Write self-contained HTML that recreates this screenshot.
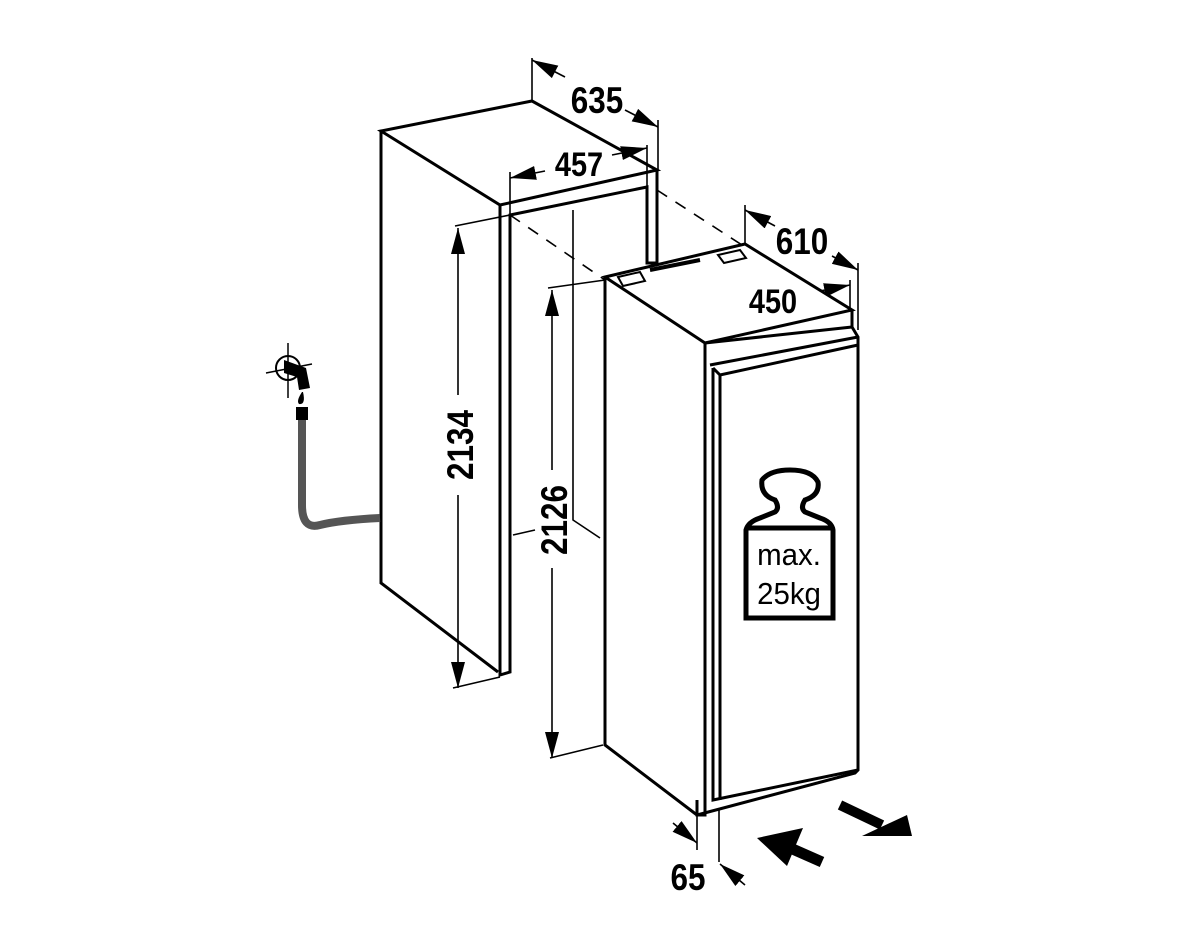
<!DOCTYPE html>
<html><head><meta charset="utf-8"><style>
html,body{margin:0;padding:0;background:#fff;}
svg{display:block}
text.d{font-family:"Liberation Sans",sans-serif;font-weight:bold;fill:#000;}
</style></head><body>
<svg width="1200" height="932" viewBox="0 0 1200 932" xmlns="http://www.w3.org/2000/svg">
<defs>
<marker id="b" viewBox="0 0 10 10" refX="10" refY="5" markerWidth="26" markerHeight="14" orient="auto-start-reverse" markerUnits="userSpaceOnUse" preserveAspectRatio="none"><path d="M0,0 L10,5 L0,10 z"/></marker>
</defs>
<g fill="none" stroke="#000" stroke-width="3" stroke-linejoin="miter">
<path d="M381,131 L532,101 L657,170 L500,205 Z"/>
<path d="M381,131 L381,583 L498,672"/>
<path d="M500,205 L500,675 L510,672 L510,215 L647,187 L647,263 L657,263 L657,170"/>
</g>
<g fill="none" stroke="#000" stroke-width="1.6">
<path d="M573,210 L573,520 L600,538"/>
<path d="M513,535 L535,530"/>
<path d="M510,215 L605,280" stroke-dasharray="12,10"/>
<path d="M657,190 L742,245" stroke-dasharray="12,10"/>
<path d="M455,226 L510,215"/><path d="M453,688 L500,677"/>
<path d="M458,228 L458,395" marker-start="url(#b)"/><path d="M458,495 L458,688" marker-end="url(#b)"/>
<path d="M548,288 L605,280"/><path d="M550,758 L603,745"/>
<path d="M552,290 L552,470" marker-start="url(#b)"/><path d="M552,568 L552,758" marker-end="url(#b)"/>
<path d="M532,58 L532,101"/><path d="M658,120 L658,170"/>
<path d="M532,60 L565,77" marker-start="url(#b)"/><path d="M625,110 L658,127" marker-end="url(#b)"/>
<path d="M510,172 L510,215"/><path d="M647,145 L647,186"/>
<path d="M510,178 L545,171" marker-start="url(#b)"/><path d="M612,155 L647,148" marker-end="url(#b)"/>
<path d="M745,205 L745,244"/><path d="M858,263 L858,330"/>
<path d="M745,210 L775,226" marker-start="url(#b)"/><path d="M832,256 L858,270" marker-end="url(#b)"/>
<path d="M705,308 L705,343"/><path d="M850,280 L850,310"/>
<path d="M705,315 L740,308" marker-start="url(#b)"/><path d="M815,292 L850,285" marker-end="url(#b)"/>
<path d="M697,815 L697,850"/><path d="M719,810 L719,862"/>
<path d="M673,823 L697,843" marker-end="url(#b)"/>
<path d="M745,885 L720,864" marker-end="url(#b)"/>
</g>
<g fill="none" stroke="#000" stroke-width="3">
<path d="M605,277 L745,244 L852,310 L705,343 Z" fill="#fff"/>
<path d="M605,277 L605,745 L697,815"/>
<path d="M705,343 L705,815 L697,815 L697,800"/>
<path d="M852,310 L852,327 L858,337 L858,770 L855,773 L697,815"/>
<path d="M705,343 L852,327"/>
<path d="M710,365 L858,337"/>
<path d="M713,368 L713,800 L858,770"/>
<path d="M720,375 L720,800"/>
<path d="M713,368 L720,375 L858,345"/>
<path d="M618,277 L640,272 L645,281 L623,286 Z" stroke-width="2"/>
<path d="M718,255 L740,250 L746,258 L724,263 Z" stroke-width="2"/>
<path d="M650,270 L700,260" stroke-width="4"/>
</g>
<g stroke="#000" stroke-width="5" fill="none">
<path d="M746,618 L746,530 Q748,522 760,518 L775,512 Q780,508 775,500 Q760,495 762,480 Q770,470 790,470 Q812,470 818,482 Q820,495 805,500 Q800,508 805,512 L820,518 Q832,522 833,530 L833,618 Z"/>
<path d="M746,528 L833,528"/>
</g>
<text x="789" y="565" font-size="31" text-anchor="middle" font-family="Liberation Sans, sans-serif" transform="translate(789,0) scale(0.95,1) translate(-789,0)">max.</text>
<text x="789" y="604" font-size="31" text-anchor="middle" font-family="Liberation Sans, sans-serif" transform="translate(789,0) scale(0.95,1) translate(-789,0)">25kg</text>
<line x1="822" y1="862" x2="788" y2="847" stroke="#000" stroke-width="11"/>
<path d="M757,838 L803,828 L787,866 Z" fill="#000"/>
<line x1="840" y1="805" x2="882" y2="825" stroke="#000" stroke-width="10"/>
<path d="M912,836 L907,815 L862,836 Z" fill="#000"/>
<path d="M380,518 Q340,520 320,525 Q302,530 302,505 L302,420" fill="none" stroke="#555" stroke-width="8"/>
<rect x="296" y="407" width="12" height="13" fill="#000"/>
<path d="M302,392 Q296,401 299,404 Q306,405 303,392 Z" fill="#000"/>
<circle cx="288" cy="368" r="12" fill="none" stroke="#000" stroke-width="2"/>
<path d="M288,343 L288,398 M266,373 L312,364" stroke="#000" stroke-width="1.5"/>
<path d="M284,360 L306,368 L310,388 L299,390 L297,377 L284,373 Z" fill="#000"/>
<g transform="translate(597,0) scale(0.85,1) translate(-597,0)"><text class="d" x="597" y="113" font-size="37" text-anchor="middle">635</text></g>
<g transform="translate(579,0) scale(0.85,1) translate(-579,0)"><text class="d" x="579" y="176" font-size="34" text-anchor="middle">457</text></g>
<g transform="translate(802,0) scale(0.85,1) translate(-802,0)"><text class="d" x="802" y="254" font-size="37" text-anchor="middle">610</text></g>
<g transform="translate(773,0) scale(0.85,1) translate(-773,0)"><text class="d" x="773" y="313" font-size="34" text-anchor="middle">450</text></g>
<g transform="translate(688,0) scale(0.85,1) translate(-688,0)"><text class="d" x="688" y="890" font-size="37" text-anchor="middle">65</text></g>
<g transform="translate(473,445) rotate(-90) scale(0.85,1)"><text class="d" x="0" y="0" font-size="37" text-anchor="middle">2134</text></g>
<g transform="translate(567,520) rotate(-90) scale(0.85,1)"><text class="d" x="0" y="0" font-size="37" text-anchor="middle">2126</text></g>
</svg>
</body></html>
